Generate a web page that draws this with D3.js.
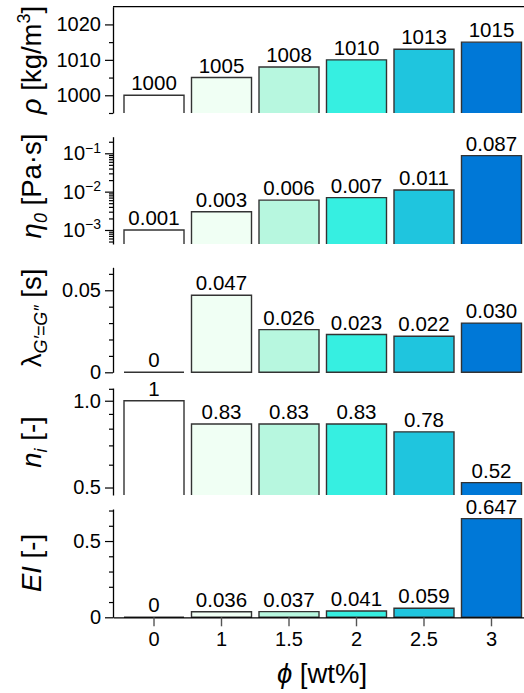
<!DOCTYPE html>
<html>
<head>
<meta charset="utf-8">
<script src="https://cdn.jsdelivr.net/npm/d3@7"></script>
<style>
  body { margin: 0; background: #fff; }
  svg { display: block; font-family: "Liberation Sans", Arial, Helvetica, sans-serif; }
</style>
</head>
<body>
<svg width="524" height="693"></svg>
<script>
// values
const phi = ["0", "1", "1.5", "2", "2.5", "3"];
const barColors = ["#ffffff", "#f0fff4", "#b7f7df", "#36efe1", "#1fc5de", "#0078d7"];
const density = [1000, 1005, 1008, 1010, 1013, 1015];
const viscosity = [0.001, 0.003, 0.006, 0.007, 0.011, 0.087];
const crossover = [0, 0.047, 0.026, 0.023, 0.022, 0.030];
const flowIndex = [1, 0.83, 0.83, 0.83, 0.78, 0.52];
const elasticity = [0, 0.036, 0.037, 0.041, 0.059, 0.647];

const svg = d3.select("svg");
const left = 113;

const x = d3.scaleBand().domain(phi).range([left, 532.5])
    .paddingInner(0.111).paddingOuter(0.163);

function fmt(v, dec) {
    return (v === 0 || v === 1) ? String(v) : v.toFixed(dec);
}

const panels = [
    {
        values: density, dec: 0, clip: true,
        y: d3.scaleLinear().domain([995, 1025]).range([113, 6.7]),
        major: [1000, 1010, 1020], minor: [995, 1005, 1015],
        title: [["ρ", "italic"], [" [kg/m", null], ["3", "sup"], ["]", null]],
        titleY: 60
    },
    {
        values: viscosity, dec: 3, clip: true, log: true,
        y: d3.scaleLog().domain([0.000431, 0.271]).range([244, 136.7]),
        major: [0.001, 0.01, 0.1],
        minor: [0.0005, 0.0006, 0.0007, 0.0008, 0.0009,
                0.002, 0.003, 0.004, 0.005, 0.006, 0.007, 0.008, 0.009,
                0.02, 0.03, 0.04, 0.05, 0.06, 0.07, 0.08, 0.09, 0.2],
        title: [["η", "italic"], ["0", "subi"], [" [Pa·s]", null]],
        titleY: 186
    },
    {
        values: crossover, dec: 3, clip: false,
        y: d3.scaleLinear().domain([0, 0.064]).range([372.3, 267.3]),
        major: [0, 0.05], minor: [0.01, 0.02, 0.03, 0.04, 0.06],
        title: [["λ", null], ["G′=G″", "subi"], [" [s]", null]],
        titleY: 318
    },
    {
        values: flowIndex, dec: 2, clip: true,
        y: d3.scaleLog().domain([0.471, 1.107]).range([495, 388]),
        major: [0.5, 1.0], minor: [0.6, 0.7, 0.8, 0.9, 1.1],
        majorFmt: d3.format(".1f"),
        title: [["n", "italic"], ["i", "subi"], [" [-]", null]],
        titleY: 442
    },
    {
        values: elasticity, dec: 3, clip: false,
        y: d3.scaleLinear().domain([0, 0.71]).range([617.3, 509]),
        major: [0, 0.5], minor: [0.1, 0.2, 0.3, 0.4, 0.6, 0.7],
        title: [["EI", "italic"], [" [-]", null]],
        titleY: 563
    }
];

const defs = svg.append("defs");

panels.forEach(function(p, i) {
    const [bottom, top] = p.y.range();
    const g = svg.append("g");

    // bars, drawn as paths so that a zero bar still shows its edge
    let barLayer = g.append("g");
    if (p.clip) {
        defs.append("clipPath").attr("id", "clip" + i)
            .append("rect").attr("x", left).attr("y", top - 40)
            .attr("width", 524 - left).attr("height", bottom - top + 40);
        barLayer.attr("clip-path", "url(#clip" + i + ")");
    }
    barLayer.selectAll("path").data(p.values).enter()
        .append("path")
        .attr("d", function(d, j) {
            const x0 = x(phi[j]), x1 = x0 + x.bandwidth();
            const y0 = p.clip ? bottom + 5 : bottom, y1 = p.y(d);
            return "M" + x0 + "," + y0 + "V" + y1 + "H" + x1 + "V" + y0 + "Z";
        })
        .attr("fill", function(d, j) { return barColors[j]; })
        .attr("stroke", "#333")
        .attr("stroke-width", 1.4);

    // value labels
    g.selectAll("text.val").data(p.values).enter()
        .append("text")
        .attr("class", "val")
        .attr("x", function(d, j) { return x(phi[j]) + x.bandwidth() / 2; })
        .attr("y", function(d) { return p.y(d) - 5; })
        .attr("text-anchor", "middle")
        .attr("font-size", "20.5px")
        .text(function(d) { return fmt(d, p.dec); });

    // minor ticks
    g.append("g")
        .attr("transform", "translate(" + left + ",0)")
        .call(d3.axisLeft(p.y).tickValues(p.minor).tickSize(4).tickFormat(""))
        .call(function(a) { a.select(".domain").remove(); })
        .selectAll("line").attr("stroke", "#000").attr("stroke-width", 1.2);

    // major ticks + spine
    const ax = g.append("g")
        .attr("transform", "translate(" + left + ",0)")
        .call(d3.axisLeft(p.y).tickValues(p.major).tickSize(8).tickSizeOuter(0)
            .tickPadding(4)
            .tickFormat(p.majorFmt || function(d) { return String(d); }));
    ax.select(".domain").attr("stroke-width", 1.3);
    ax.selectAll("line").attr("stroke-width", 1.2);
    ax.selectAll("text")
        .attr("font-size", "20px")
        .attr("font-family", "\"Liberation Sans\", Arial, sans-serif")
        .attr("fill", "#000");

    if (p.log) {
        ax.selectAll(".tick text").each(function(d) {
            const t = d3.select(this).text("");
            t.append("tspan").text("10");
            t.append("tspan").attr("dy", "-0.55em").attr("font-size", "14px")
                .text("−" + Math.round(-Math.log10(d)));
        });
    }

    // axis title
    const title = svg.append("text")
        .attr("transform", "translate(41," + p.titleY + ") rotate(-90)")
        .attr("text-anchor", "middle")
        .attr("font-size", "27.5px");
    let shift = 0;
    p.title.forEach(function(part) {
        const ts = title.append("tspan").text(part[0]);
        if (part[1] === "italic") {
            ts.attr("font-style", "italic");
            if (shift) { ts.attr("dy", -shift); shift = 0; }
        } else if (part[1] === "sup") {
            ts.attr("font-size", "18px").attr("dy", -11); shift = -11;
        } else if (part[1] === "subi") {
            ts.attr("font-size", "18px").attr("font-style", "italic").attr("dy", 6); shift = 6;
        } else {
            if (shift) { ts.attr("dy", -shift); shift = 0; }
        }
    });
});

// top frame line of the first panel
svg.append("line")
    .attr("x1", left).attr("x2", 524)
    .attr("y1", 6.7).attr("y2", 6.7)
    .attr("stroke", "#000").attr("stroke-width", 1.3);

// x axis
const xAxis = svg.append("g")
    .attr("transform", "translate(0,617.3)")
    .call(d3.axisBottom(x).tickSize(9).tickSizeOuter(0).tickPadding(6));
xAxis.select(".domain").attr("stroke-width", 1.3);
xAxis.selectAll(".tick line").attr("stroke", "#555").attr("stroke-width", 1.4);
xAxis.selectAll("text")
    .attr("font-size", "20px")
    .attr("font-family", "\"Liberation Sans\", Arial, sans-serif")
    .attr("fill", "#000");

const xt = svg.append("text")
    .attr("x", 322).attr("y", 683)
    .attr("text-anchor", "middle")
    .attr("font-size", "27.5px");
xt.append("tspan").attr("font-style", "italic").text("ϕ");
xt.append("tspan").text(" [wt%]");
</script>
</body>
</html>
